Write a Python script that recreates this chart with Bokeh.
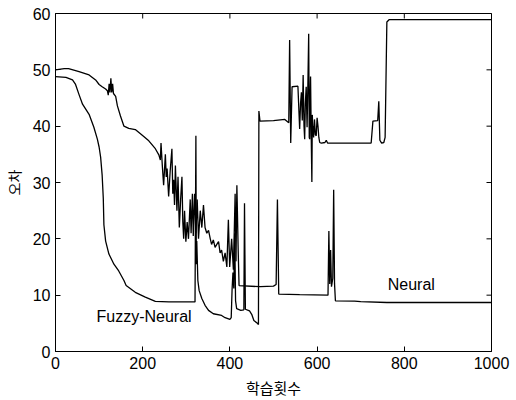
import math
from bokeh.plotting import figure
from bokeh.models import Range1d, Label, FixedTicker
from bokeh.embed import file_html
from bokeh.resources import INLINE

# Fuzzy-Neural curve (starts near 49, falls quickly)
fuzzy_x = [0, 24, 39, 46, 54, 62, 77, 88, 96, 100, 103.5, 107, 109.6, 111, 115, 122.5,
           134, 145, 157, 162, 183, 206, 229, 260, 320, 322, 323, 324, 326.5, 329.5,
           335.6, 343, 351, 362, 381, 389, 400, 403, 405, 407, 409, 411, 413, 415.5,
           425, 432, 433.5, 435.5, 445, 450, 455, 463, 465.5, 466.5, 469, 500, 526,
           535, 537, 539.5, 542.6, 556, 560, 562, 564, 566, 568, 570, 571.5, 573, 575,
           577, 579, 580.7, 582, 583, 584, 585, 586.5, 588, 589, 590, 592, 594, 596,
           598, 600, 602, 604, 606, 609.6, 618, 621, 624, 724, 728, 739, 741.5, 744,
           748, 753, 756, 760, 765, 1000]
fuzzy_y = [48.8, 48.65, 48.2, 47.4, 45.6, 43.9, 42.1, 39.8, 37.7, 36.3, 34.5, 31.3, 27.2,
           22.5, 19.6, 17.3, 15.5, 14.3, 12.6, 11.7, 10.5, 9.65, 8.9, 8.8, 8.8, 38.3,
           15.5, 19.6, 12.6, 10.8, 9.4, 8.2, 7.3, 6.7, 6.4, 6.0, 5.7, 6.0, 11, 14, 11.2,
           21, 9, 7.6, 7.3, 7.4, 26.3, 7.5, 7.2, 6.6, 5.5, 5.0, 4.8, 42.7, 40.9, 41.0,
           41.2, 40.6, 55.3, 37.0, 47.0, 47.1, 39.5, 44, 46, 41, 49.1, 40, 37.7, 44, 47,
           39.8, 48, 56.4, 38, 37.7, 45, 48.8, 38.5, 30.1, 42, 40, 38, 41.2, 38.5, 38.3,
           41.5, 40, 38, 37.1, 37.0, 37.1, 37.5, 37.0, 37.0, 40.9, 41.0, 44.4, 37.5,
           37.0, 37.1, 38.0, 58.5, 58.9, 58.9]

# Neural curve (starts at 50, descends slowly)
neural_x = [0, 20, 30, 54, 77, 92, 100, 107, 115, 119, 121, 123, 125, 127, 129, 131, 133,
            138, 142, 149, 157, 168, 183, 199, 214, 229, 237, 240.5, 242, 245, 248, 252,
            254, 256, 259.5, 263, 267, 269, 271, 273, 275, 278.5, 281, 284, 287, 290,
            292, 294, 296, 299, 302, 305, 309, 311, 314, 316, 319, 322, 325, 328, 332,
            335.6, 339.4, 343, 347, 351, 355, 358, 362, 366, 370, 374, 377.5, 381, 385,
            389, 393, 396.5, 399.5, 404, 408, 412, 414, 416, 419, 421, 470, 500, 506,
            509, 512, 560, 625, 627, 629, 631, 633, 636, 638, 640, 642, 686, 700, 760,
            1000]
neural_y = [50.0, 50.2, 50.2, 49.7, 49.1, 48.2, 47.4, 47.0, 46.6, 46.3, 45.5, 47.5, 46.0,
            48.5, 46.0, 47.5, 45.8, 45.3, 43.6, 41.8, 40.0, 39.6, 39.4, 38.4, 37.4, 36.0,
            34.9, 34.0, 37.0, 33, 29.5, 35, 31, 32.5, 27.5, 32, 36, 28, 30.5, 26, 33, 25,
            31, 22, 27, 31, 23, 20, 25, 19.5, 23, 20, 27, 21, 28, 20.5, 28, 21, 27, 20,
            25, 22, 26, 22, 21, 21.5, 20, 19, 19.8, 18.5, 19, 19.5, 17.5, 18, 16, 17.5,
            15, 23.4, 15, 20, 14.5, 28, 16, 29.5, 18, 11.7, 11.5, 11.6, 11.9, 27, 10.2,
            10.1, 10.0, 21.4, 12, 18, 11.5, 13, 28.7, 12, 9.0, 8.95, 8.85, 8.7, 8.7]

x_ticks = [0, 200, 400, 600, 800, 1000]
y_ticks = [0, 10, 20, 30, 40, 50, 60]

label_texts = ["Fuzzy-Neural", "Neural"]
label_x = [94, 762]
label_y = [6.3, 11.9]

X_MIN, X_MAX, Y_MIN, Y_MAX = 0, 1000, 0, 60

p = figure(width=516, height=400, output_backend="svg", toolbar_location=None,
           x_range=Range1d(X_MIN, X_MAX), y_range=Range1d(Y_MIN, Y_MAX),
           min_border_left=53, min_border_right=25, min_border_top=13,
           min_border_bottom=45)

p.background_fill_color = "white"
p.border_fill_color = "white"
p.outline_line_color = "black"
p.outline_line_width = 1
p.grid.visible = False

p.line(fuzzy_x, fuzzy_y, line_color="black", line_width=1.3)
p.line(neural_x, neural_y, line_color="black", line_width=1.3)

# inward ticks on the top and right edges (mirrors of the bottom/left axes);
# dashes centred on the frame edge are clipped to the frame, leaving the inner half
p.scatter(x_ticks, [Y_MAX] * len(x_ticks), marker="dash", size=10,
          angle=math.pi / 2, line_color="black", line_width=1)
p.scatter([X_MAX] * len(y_ticks), y_ticks, marker="dash", size=10,
          line_color="black", line_width=1)

for t, lx, ly in zip(label_texts, label_x, label_y):
    p.add_layout(Label(x=lx, y=ly, text=t, text_font="Liberation Sans",
                       text_font_size="16px", text_color="black",
                       text_baseline="middle", text_align="left"))

for ax, ticks in ((p.xaxis[0], x_ticks), (p.yaxis[0], y_ticks)):
    ax.ticker = FixedTicker(ticks=ticks)
    ax.major_tick_in = 5
    ax.major_tick_out = 0
    ax.minor_tick_line_color = None
    ax.axis_line_color = "black"
    ax.major_tick_line_color = "black"
    ax.major_label_text_font = "Liberation Sans"
    ax.major_label_text_font_size = "16px"
    ax.major_label_text_color = "black"
    ax.major_label_standoff = 5
    ax.axis_label_text_font = "Noto Sans CJK KR"
    ax.axis_label_text_font_style = "normal"
    ax.axis_label_text_color = "black"

p.xaxis[0].axis_label = "학습횟수"
p.yaxis[0].axis_label = "오차"
p.xaxis[0].axis_label_text_font_size = "15px"
p.yaxis[0].axis_label_text_font_size = "14px"
p.xaxis[0].axis_label_standoff = 5
p.yaxis[0].axis_label_standoff = 6

open("out.html", "w").write(file_html(p, INLINE))
